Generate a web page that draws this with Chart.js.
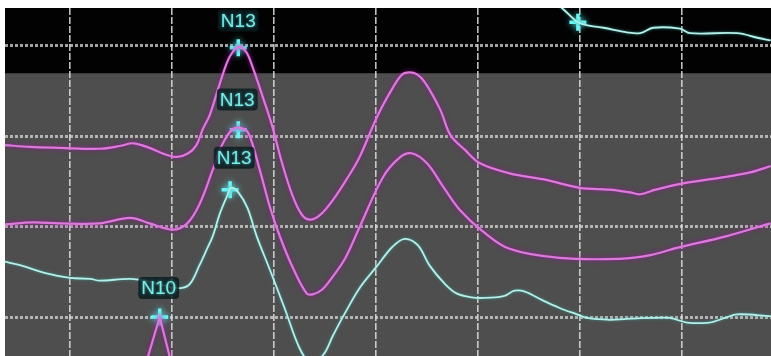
<!DOCTYPE html>
<html>
<head>
<meta charset="utf-8">
<script src="https://cdn.jsdelivr.net/npm/chart.js@4.4.1/dist/chart.umd.min.js"></script>
<style>
  html, body { margin: 0; padding: 0; background: #fff; overflow: hidden; }
  #wrap { width: 771px; height: 356px; position: relative; }
  #evoked { display: block; }
</style>
</head>
<body>
<div id="wrap"><canvas id="evoked"></canvas></div>
<script>
// ── data (x in ms, grid every 10; y in grid units) ──────────
const upperX = [-6.4,-3.9,-1.0,2.9,4.9,6.2,7.8,9.3,10.5,11.6,12.4,13.0,13.7,14.5,15.4,16.0,16.6,17.3,17.9,18.9,19.8,20.8,21.8,22.7,23.5,24.5,25.8,27.1,28.4,30.1,31.7,32.6,33.3,34.0,34.8,36.3,37.3,38.7,40.2,43.1,46.6,50.0,52.9,54.9,55.9,57.4,60.1,63.7,66.7,68.7];
const upperY = [1.90,1.88,1.87,1.86,1.89,1.92,1.87,1.80,1.77,1.81,1.90,2.07,2.23,2.51,2.81,2.93,2.98,2.92,2.76,2.43,2.12,1.70,1.35,1.14,1.08,1.13,1.30,1.52,1.77,2.21,2.54,2.68,2.70,2.68,2.59,2.29,2.01,1.85,1.70,1.59,1.52,1.43,1.41,1.38,1.36,1.41,1.48,1.54,1.60,1.67];

const lowerX = [-6.4,-3.6,-1.0,2.9,5.9,7.8,10.1,11.5,12.7,14.0,14.9,15.9,16.7,17.5,18.6,19.6,20.6,21.9,23.2,23.8,24.7,25.8,27.0,28.4,30.7,32.4,33.5,35.0,36.6,38.2,40.5,43.1,48.0,53.9,56.9,59.5,64.4,68.7];
const lowerY = [1.03,1.05,1.04,1.04,1.10,1.04,0.97,1.04,1.25,1.63,1.90,2.07,2.09,2.03,1.63,1.22,0.89,0.54,0.27,0.26,0.31,0.46,0.66,1.00,1.55,1.77,1.81,1.70,1.44,1.19,0.95,0.76,0.66,0.65,0.69,0.77,0.90,1.04];

const baseX = [-6.4,-4.9,-2.3,0.0,2.0,2.9,5.9,7.8,9.8,11.0,11.8,12.7,13.4,14.0,14.7,15.4,15.8,16.5,17.4,18.3,19.6,21.1,22.5,23.5,24.8,25.8,26.8,28.4,30.1,31.6,32.8,34.1,35.3,36.8,37.9,39.2,40.5,42.5,43.6,44.6,46.4,48.0,49.7,50.7,52.9,54.6,56.9,58.8,60.5,62.7,64.2,65.4,68.7];
const baseY = [0.62,0.58,0.49,0.44,0.43,0.41,0.43,0.40,0.34,0.33,0.38,0.58,0.75,0.90,1.15,1.34,1.43,1.38,1.21,0.90,0.53,0.09,-0.33,-0.48,-0.41,-0.19,0.02,0.33,0.57,0.78,0.87,0.80,0.57,0.37,0.27,0.23,0.22,0.24,0.30,0.29,0.19,0.11,0.04,0.00,-0.02,-0.01,0.00,0.00,-0.05,-0.05,0.00,0.04,0.02];

const topX = [47.4,48.5,49.8,51.0,52.3,54.6,55.9,57.2,59.8,60.8,65.4,67.4,68.7];
const topY = [3.49,3.38,3.25,3.21,3.19,3.14,3.13,3.19,3.18,3.13,3.13,3.08,3.05];

const dipX = [7.5,8.8,9.9];
const dipY = [-0.48,0.01,-0.48];

const markX = [16.5,16.5,15.7,8.8,49.8];
const markY = [2.97,2.07,1.41,0.01,3.25];

const labelText = ["N13","N13","N13","N10"];
const labelX = [16.5,16.4,16.1,8.7];
const labelY = [3.27,2.40,1.76,0.33];

const xTicks = [0,10,20,30,40,50,60];
const yTicks = [0,1,2,3];
const xMin = -6.37, xMax = 68.73;
const yMin = -0.418, yMax = 3.407;
const darkBandBottom = 2.69;

const pts = (xs, ys) => xs.map((x, i) => ({ x, y: ys[i] }));

// ── plugins ────────────────────────────────────────────
const backdrop = {
    id: "backdrop",
    beforeDraw(chart) {
        const { ctx, chartArea: a, scales: { y } } = chart;
        const yb = y.getPixelForValue(darkBandBottom);
        ctx.save();
        ctx.fillStyle = "#4e4e4e";
        ctx.fillRect(a.left, a.top, a.right - a.left, a.bottom - a.top);
        ctx.fillStyle = "#020202";
        ctx.fillRect(a.left, a.top, a.right - a.left, yb - a.top);
        ctx.restore();
    },
};

const glow = {
    id: "glow",
    beforeDatasetDraw(chart, args) {
        const ds = chart.data.datasets[args.index];
        chart.ctx.save();
        chart.ctx.shadowColor = ds.glowColor || "transparent";
        chart.ctx.shadowBlur = ds.glowBlur || 0;
    },
    afterDatasetDraw(chart) {
        chart.ctx.restore();
    },
};

const peakLabels = {
    id: "peakLabels",
    afterDatasetsDraw(chart) {
        const { ctx, scales: { x, y } } = chart;
        ctx.save();
        ctx.font = "19px 'Liberation Sans Narrow', 'Liberation Sans', Arial, sans-serif";
        ctx.textAlign = "center";
        ctx.textBaseline = "middle";
        labelText.forEach((t, i) => {
            const px = x.getPixelForValue(labelX[i]);
            const py = y.getPixelForValue(labelY[i]);
            const w = ctx.measureText(t).width + 6;
            ctx.fillStyle = "rgba(8,28,30,0.82)";
            ctx.beginPath();
            ctx.roundRect(px - w / 2, py - 11, w, 22, 4);
            ctx.fill();
            ctx.shadowColor = "rgba(80,230,230,0.7)";
            ctx.shadowBlur = 3;
            ctx.fillStyle = "#7ae8e6";
            ctx.fillText(t, px, py + 1);
            ctx.shadowBlur = 0;
        });
        ctx.restore();
    },
};

// ── chart ──────────────────────────────────────────────
const magenta = { borderColor: "#de78de", borderWidth: 2.2, glowColor: "rgba(150,20,150,1)", glowBlur: 5 };
const cyan = { borderColor: "#b4efe8", borderWidth: 1.8, glowColor: "rgba(60,160,160,0.8)", glowBlur: 3 };
const lineBase = { showLine: true, pointRadius: 0, tension: 0.35, fill: false };

const hiddenTicks = { display: false, padding: 0 };

new Chart(document.getElementById("evoked"), {
    type: "scatter",
    data: {
        datasets: [
            { ...lineBase, ...magenta, label: "upper", data: pts(upperX, upperY) },
            { ...lineBase, ...magenta, label: "lower", data: pts(lowerX, lowerY) },
            { ...lineBase, ...magenta, tension: 0, label: "dip", data: pts(dipX, dipY) },
            { ...lineBase, ...cyan, label: "base", data: pts(baseX, baseY) },
            { ...lineBase, ...cyan, label: "top", data: pts(topX, topY) },
            {
                label: "markers",
                data: pts(markX, markY),
                pointStyle: "cross",
                pointRadius: 8.5,
                pointBorderWidth: 3.5,
                pointBorderColor: "#6af6f6",
                pointBackgroundColor: "#6af6f6",
                glowColor: "rgba(90,255,255,0.9)",
                glowBlur: 6,
            },
        ],
    },
    options: {
        responsive: true,
        maintainAspectRatio: false,
        animation: false,
        layout: { autoPadding: false, padding: { top: 8, left: 5, right: 0, bottom: 0 } },
        plugins: { legend: { display: false }, tooltip: { enabled: false } },
        scales: {
            x: {
                type: "linear",
                min: xMin,
                max: xMax,
                afterBuildTicks: s => { s.ticks = xTicks.map(v => ({ value: v })); },
                ticks: hiddenTicks,
                grid: { color: "rgba(225,225,225,0.85)", lineWidth: 1.6, drawTicks: false, tickLength: 0 },
                border: { display: false, dash: [7, 2] },
            },
            y: {
                type: "linear",
                min: yMin,
                max: yMax,
                afterBuildTicks: s => { s.ticks = yTicks.map(v => ({ value: v })); },
                ticks: hiddenTicks,
                grid: { color: "rgba(215,215,215,0.75)", lineWidth: 3, drawTicks: false, tickLength: 0 },
                border: { display: false, dash: [3, 2] },
            },
        },
    },
    plugins: [backdrop, glow, peakLabels],
});
</script>
</body>
</html>
